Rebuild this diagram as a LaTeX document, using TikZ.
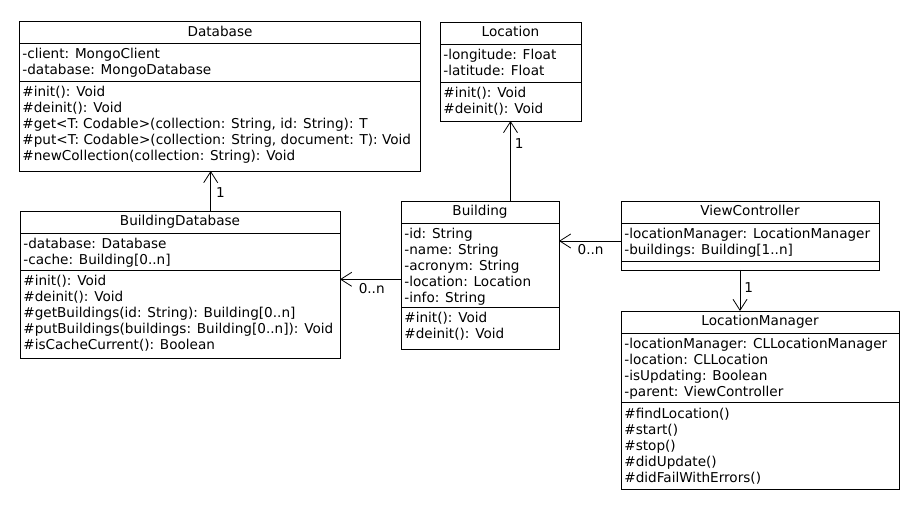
\documentclass[tikz,border=0pt]{standalone}
\usepackage{fontspec}
\setmainfont{DejaVu Sans}
\usetikzlibrary{arrows.meta}
\newcommand{\umlfont}{\fontsize{13.6}{16}\selectfont}

\begin{document}
\begin{tikzpicture}[x=1pt,y=-1pt,line width=0.8pt,
  classbox/.style={draw,anchor=north west,inner sep=0pt,outer sep=0pt},
  classname/.style={inner sep=0pt,font=\umlfont,text height=10pt,text depth=2.5pt},
  members/.style={anchor=north west,inner sep=0pt,align=left,font=\umlfont},
  assoc/.style={-{Straight Barb[length=11pt,width=14pt]}},
  mult/.style={inner sep=0pt,font=\umlfont}]

  \fill[white] (0,0) rectangle (920,510);
  \useasboundingbox (0,0) rectangle (920,510);

  % Database
  \node[classbox,minimum width=401pt,minimum height=149.5pt] (db) at (19.5,21.5) {};
  \node[classname] (db-name) at (220,32.5) {Database};
  \node[members] (db-attr) at (22,48) {-client: MongoClient\\-database: MongoDatabase};
  \node[members] (db-ops) at (22,85.5) {\#init(): Void\\\#deinit(): Void\\\#get<T: Codable>(collection: String, id: String): T\\\#put<T: Codable>(collection: String, document: T): Void\\\#newCollection(collection: String): Void};
  \draw (db.west |- 0,43.5) -- (db.east |- 0,43.5);
  \draw (db.west |- 0,81) -- (db.east |- 0,81);

  % Location
  \node[classbox,minimum width=141pt,minimum height=99pt] (loc) at (440,22) {};
  \node[classname] (loc-name) at (510.5,33) {Location};
  \node[members] (loc-attr) at (443,48.5) {-longitude: Float\\-latitude: Float};
  \node[members] (loc-ops) at (443,86.5) {\#init(): Void\\\#deinit(): Void};
  \draw (loc.west |- 0,44) -- (loc.east |- 0,44);
  \draw (loc.west |- 0,82) -- (loc.east |- 0,82);

  % BuildingDatabase
  \node[classbox,minimum width=320pt,minimum height=147pt] (bdb) at (20,211) {};
  \node[classname] (bdb-name) at (180,222) {BuildingDatabase};
  \node[members] (bdb-attr) at (23,237.5) {-database: Database\\-cache: Building[0..n]};
  \node[members] (bdb-ops) at (23,275) {\#init(): Void\\\#deinit(): Void\\\#getBuildings(id: String): Building[0..n]\\\#putBuildings(buildings: Building[0..n]): Void\\\#isCacheCurrent(): Boolean};
  \draw (bdb.west |- 0,233) -- (bdb.east |- 0,233);
  \draw (bdb.west |- 0,270) -- (bdb.east |- 0,270);

  % Building
  \node[classbox,minimum width=158pt,minimum height=148pt] (bld) at (401,201) {};
  \node[classname] (bld-name) at (480,212) {Building};
  \node[members] (bld-attr) at (404,228) {-id: String\\-name: String\\-acronym: String\\-location: Location\\-info: String};
  \node[members] (bld-ops) at (404,312) {\#init(): Void\\\#deinit(): Void};
  \draw (bld.west |- 0,223) -- (bld.east |- 0,223);
  \draw (bld.west |- 0,307) -- (bld.east |- 0,307);

  % ViewController
  \node[classbox,minimum width=258pt,minimum height=69pt] (vc) at (621,201) {};
  \node[classname] (vc-name) at (750,212) {ViewController};
  \node[members] (vc-attr) at (624,228) {-locationManager: LocationManager\\-buildings: Building[1..n]};
  \draw (vc.west |- 0,223) -- (vc.east |- 0,223);
  \draw (vc.west |- 0,261) -- (vc.east |- 0,261);

  % LocationManager
  \node[classbox,minimum width=278pt,minimum height=178pt] (lm) at (621,311) {};
  \node[classname] (lm-name) at (760,322) {LocationManager};
  \node[members] (lm-attr) at (624,338) {-locationManager: CLLocationManager\\-location: CLLocation\\-isUpdating: Boolean\\-parent: ViewController};
  \node[members] (lm-ops) at (624,407.5) {\#findLocation()\\\#start()\\\#stop()\\\#didUpdate()\\\#didFailWithErrors()};
  \draw (lm.west |- 0,333) -- (lm.east |- 0,333);
  \draw (lm.west |- 0,402) -- (lm.east |- 0,402);

  % associations
  \draw[assoc] ([xshift=30.7pt]bdb.north) -- ([xshift=30.7pt]bdb.north |- db.south)
    node[mult,pos=0.45,anchor=west,xshift=5pt] {1};
  \draw[assoc] (bld.north -| loc.south) -- (loc.south)
    node[mult,pos=0.72,anchor=west,xshift=4pt] {1};
  \draw[assoc] ([yshift=-4.3pt]bld.west) -- ([yshift=-4.3pt]bld.west -| bdb.east)
    node[mult,pos=0.48,anchor=north,yshift=-4pt] {0..n};
  \draw[assoc] ([yshift=-5.5pt]vc.west) -- ([yshift=-5.5pt]vc.west -| bld.east)
    node[mult,pos=0.49,anchor=north,yshift=-3.5pt] {0..n};
  \draw[assoc] ([xshift=-10pt]vc.south) -- ([xshift=-10pt]vc.south |- lm.north)
    node[mult,pos=0.44,anchor=west,xshift=4pt] {1};
\end{tikzpicture}
\end{document}
